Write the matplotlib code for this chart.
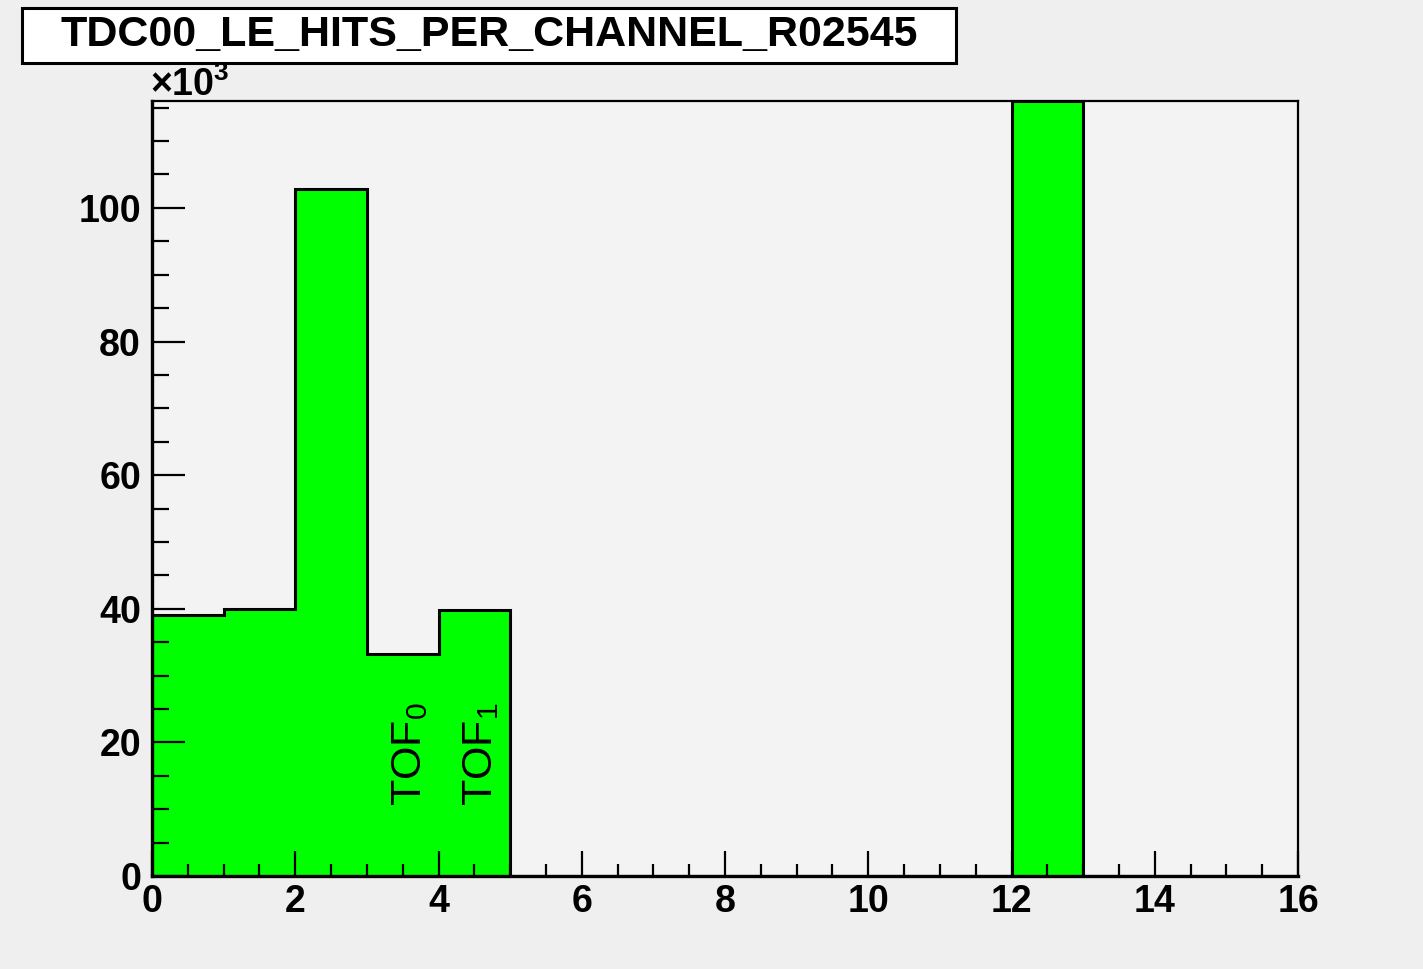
"""
TDC00 leading-edge hits per channel, ROOT-style histogram.
"""

import matplotlib
matplotlib.use("Agg")
import matplotlib.pyplot as plt
import numpy as np
from matplotlib.patches import Rectangle
from matplotlib.ticker import MultipleLocator

# Histogram data (channel bins 0..16, hit counts)
bin_edges = list(range(0, 17))
hits = [39100, 39900, 102800, 33300, 39800, 0, 0, 0,
        0, 0, 0, 0, 116000, 0, 0, 0]
title = "TDC00_LE_HITS_PER_CHANNEL_R02545"
labels = ["TOF$_0$", "TOF$_1$"]
label_channels = [3.6, 4.6]
x_ticks = [0, 2, 4, 6, 8, 10, 12, 14, 16]
y_ticks = [0, 20, 40, 60, 80, 100]

plt.rcParams["font.family"] = ["Liberation Sans", "DejaVu Sans"]
plt.rcParams["mathtext.fontset"] = "custom"
plt.rcParams["mathtext.rm"] = "Liberation Sans"
plt.rcParams["mathtext.bf"] = "Liberation Sans:bold"

W, H = 1423, 969
fig = plt.figure(figsize=(W / 100, H / 100), dpi=100, facecolor="#efefef")
ax = fig.add_axes([152 / W, 1 - 876 / H, (1298 - 152) / W, (876 - 101) / H])
ax.set_facecolor("#f3f3f3")

vals = np.array(hits) / 1000.0
ax.stairs(vals, bin_edges, fill=True, color="#00ff00", linewidth=0)
ax.stairs(vals, bin_edges, color="black", linewidth=2.2)

ax.set_xlim(0, 16)
ax.set_ylim(0, 116)

ax.set_xticks(x_ticks)
ax.set_yticks(y_ticks)
ax.xaxis.set_minor_locator(MultipleLocator(0.5))
ax.yaxis.set_minor_locator(MultipleLocator(5))
ax.tick_params(axis="both", which="both", direction="in", width=1.6,
               top=False, right=False, labelsize=27)
ax.tick_params(axis="y", which="major", length=24, pad=8)
ax.tick_params(axis="y", which="minor", length=12)
ax.tick_params(axis="x", which="major", length=18, pad=6)
ax.tick_params(axis="x", which="minor", length=8.5)
for lbl in ax.get_xticklabels() + ax.get_yticklabels():
    lbl.set_fontweight("bold")

for side in ["left", "bottom"]:
    ax.spines[side].set_linewidth(2.4)
for side in ["top", "right"]:
    ax.spines[side].set_linewidth(1.6)

for lab, ch in zip(labels, label_channels):
    ax.text(ch, 10.5, lab, rotation=90, ha="center", va="bottom",
            fontsize=31, color="black")

# exponent marker
fig.text(150 / W, 1 - 104 / H, r"$\mathbf{\times 10^{3}}$", fontsize=27,
         ha="left", va="bottom")

# title box
fig.patches.append(Rectangle((22 / W, 1 - 63 / H), (956 - 22) / W, (63 - 8) / H,
                             transform=fig.transFigure, facecolor="white",
                             edgecolor="black", linewidth=2.2))
fig.text((22 + 956) / 2 / W, 1 - 35 / H, title, fontsize=31, fontweight="bold",
         ha="center", va="center")

fig.savefig("out.png", dpi=100, facecolor=fig.get_facecolor())
plt.close(fig)
